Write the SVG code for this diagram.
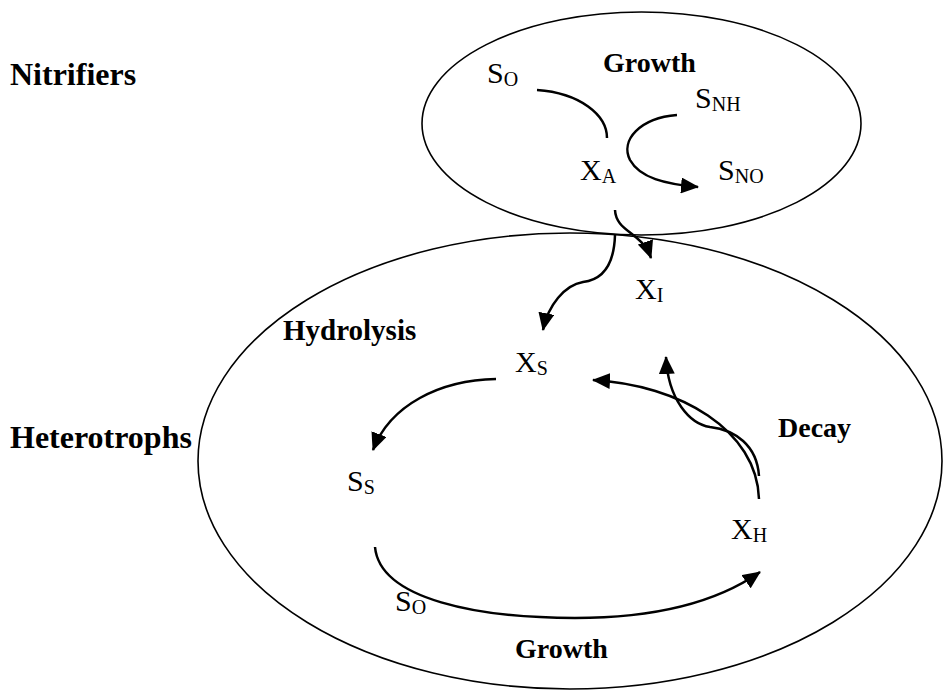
<svg xmlns="http://www.w3.org/2000/svg" width="944" height="691" viewBox="0 0 944 691">
<style>
.bold{font-family:"Liberation Serif","Times New Roman",serif;font-weight:bold;font-size:28px;fill:#000}
.big{font-size:32px}
.var{font-family:"Liberation Serif","Times New Roman",serif;font-size:30px;fill:#000}
.sub{font-size:20px}
.bound{fill:none;stroke:#000;stroke-width:1.6}
.conn{fill:none;stroke:#000;stroke-width:2.5}
.arrow{marker-end:url(#ah)}
</style>
<defs>
<marker id="ah" viewBox="0 0 18 16" refX="17" refY="8" markerWidth="18" markerHeight="16" markerUnits="userSpaceOnUse" orient="auto">
<path d="M0,0 L18,8 L0,16 z" fill="#000"/>
</marker>
</defs>
<rect width="944" height="691" fill="#fff"/>
<g id="heterotrophs-boundary"><ellipse class="bound" cx="570" cy="461" rx="372" ry="228"/></g>
<g id="nitrifiers-boundary"><ellipse class="bound" cx="641.5" cy="123.5" rx="219.5" ry="111.5"/></g>
<g id="labels">
<text class="bold big" x="10" y="85">Nitrifiers</text>
<text class="bold big" x="10" y="448">Heterotrophs</text>
<text class="bold" x="283" y="340" style="font-size:29px">Hydrolysis</text>
<text class="bold" x="603" y="72">Growth</text>
<text class="bold" x="778" y="437">Decay</text>
<text class="bold" x="515" y="658">Growth</text>
</g>
<g id="node-SO-top"><text class="var" x="487" y="83">S<tspan class="sub" dy="3">O</tspan></text></g>
<g id="node-SNH"><text class="var" x="695" y="108">S<tspan class="sub" dy="3">NH</tspan></text></g>
<g id="node-XA"><text class="var" x="580" y="180">X<tspan class="sub" dy="3">A</tspan></text></g>
<g id="node-SNO"><text class="var" x="718" y="180">S<tspan class="sub" dy="3">NO</tspan></text></g>
<g id="node-XI"><text class="var" x="635" y="299">X<tspan class="sub" dy="3">I</tspan></text></g>
<g id="node-XS"><text class="var" x="515" y="372">X<tspan class="sub" dy="3">S</tspan></text></g>
<g id="node-SS"><text class="var" x="347" y="491">S<tspan class="sub" dy="3">S</tspan></text></g>
<g id="node-XH"><text class="var" x="731" y="539">X<tspan class="sub" dy="3">H</tspan></text></g>
<g id="node-SO-bottom"><text class="var" x="395" y="611">S<tspan class="sub" dy="3">O</tspan></text></g>
<g id="connectors">
<path class="conn" d="M537,90 C580,93 607,115 607,138"/>
<path class="conn arrow" d="M677,115 C640,118 620,140 630,160 C640,178 665,184 698,187"/>
<path class="conn arrow" d="M615,210 C616,232 642,232 651,258"/>
<path class="conn arrow" d="M615,235 C614,268 600,280 583,282 C565,285 548,305 543,330"/>
<path class="conn arrow" d="M759,499 C757,430 680,385 593,380"/>
<path class="conn arrow" d="M759,476 C757,445 735,430 710,427 C690,424 668,400 666,357"/>
<path class="conn arrow" d="M496,379 C440,380 390,405 373,450"/>
<path class="conn arrow" d="M375,547 C380,600 480,618 575,618 C660,618 720,600 760,572"/>
</g>
</svg>
